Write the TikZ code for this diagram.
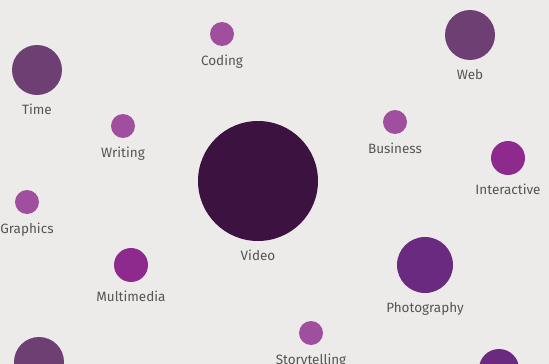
\documentclass[tikz,border=0pt]{standalone}
\usepackage{fontspec}
\setmainfont{Fira Sans}
\usepackage{xcolor}
\usepackage{tikz}
\usetikzlibrary{positioning}
\definecolor{paperGrey}{RGB}{236, 235, 233}
\definecolor{labelGrey}{RGB}{85, 85, 85}
\definecolor{skillDark}{RGB}{59, 18, 64}
\definecolor{skillMuted}{RGB}{110, 63, 114}
\definecolor{skillLight}{RGB}{160, 78, 158}
\definecolor{skillBright}{RGB}{142, 42, 142}
\definecolor{skillDeep}{RGB}{106, 42, 128}

\begin{document}
\begin{tikzpicture}[
    x=1pt, y=-1pt,
    node distance=9pt,
    bubble/.style={circle, inner sep=0pt, fill=#1},
    tag/.style={font=\fontsize{13.5}{16}\selectfont, text=labelGrey, inner sep=0pt, text height=10pt, text depth=3pt}
]

% Paper
\fill[paperGrey] (0,0) rectangle (549,364);
\useasboundingbox (0,0) rectangle (549,364);
\clip (0,0) rectangle (549,364);

% Top row
\node[bubble=skillMuted, minimum size=50pt] (time) at (37,70) {};
\node[tag, below=of time] (timelbl) {Time};
\node[bubble=skillLight, minimum size=24pt] (coding) at (222,34) {};
\node[tag, below=of coding] (codinglbl) {Coding};
\node[bubble=skillMuted, minimum size=50pt] (web) at (470,35) {};
\node[tag, below=of web] (weblbl) {Web};

% Middle
\node[bubble=skillLight, minimum size=24pt] (writing) at (123,126) {};
\node[tag, below=of writing] (writinglbl) {Writing};
\node[bubble=skillLight, minimum size=24pt] (business) at (395,122) {};
\node[tag, below=of business] (businesslbl) {Business};
\node[bubble=skillBright, minimum size=34pt] (interactive) at (508,158) {};
\node[tag, below=of interactive] (interactivelbl) {Interactive};
\node[bubble=skillDark, minimum size=120pt] (video) at (258,181) {};
\node[tag, below=of video] (videolbl) {Video};
\node[bubble=skillLight, minimum size=24pt] (graphics) at (27,202) {};
\node[tag, below=of graphics] (graphicslbl) {Graphics};

% Lower
\node[bubble=skillBright, minimum size=34pt] (multimedia) at (131,265) {};
\node[tag, below=of multimedia] (multimedialbl) {Multimedia};
\node[bubble=skillDeep, minimum size=56pt] (photo) at (425,265) {};
\node[tag, below=of photo] (photolbl) {Photography};
\node[bubble=skillLight, minimum size=24pt] (story) at (311,333) {};
\node[tag, below=of story] (storylbl) {Storytelling};

% Cut off at the edge
\node[bubble=skillMuted, minimum size=50pt] (edgeleft) at (39,362) {};
\node[bubble=skillDeep, minimum size=40pt] (edgeright) at (499,369) {};

\end{tikzpicture}
\end{document}
